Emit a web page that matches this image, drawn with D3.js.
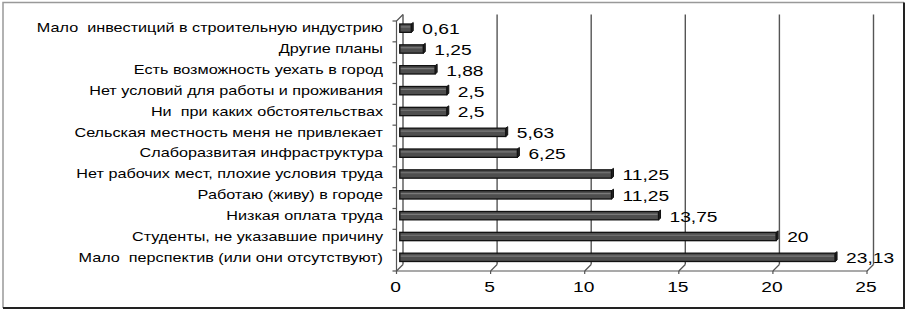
<!DOCTYPE html>
<html>
<head>
<meta charset="utf-8">
<script src="https://cdn.jsdelivr.net/npm/d3@7"></script>
<style>
  body { margin: 0; background: #fff; }
  text { font-family: "Liberation Sans", Arial, sans-serif; fill: #000; white-space: pre; }
</style>
</head>
<body>
<div id="container"></div>
<script>
const categories = [
  "Мало  инвестиций в строительную индустрию",
  "Другие планы",
  "Есть возможность уехать в город",
  "Нет условий для работы и проживания",
  "Ни  при каких обстоятельствах",
  "Сельская местность меня не привлекает",
  "Слаборазвитая инфраструктура",
  "Нет рабочих мест, плохие условия труда",
  "Работаю (живу) в городе",
  "Низкая оплата труда",
  "Студенты, не указавшие причину",
  "Мало  перспектив (или они отсутствуют)"
];
const values = [0.61, 1.25, 1.88, 2.5, 2.5, 5.63, 6.25, 11.25, 11.25, 13.75, 20, 23.13];
const xTicks = [0, 5, 10, 15, 20, 25];

const W = 914, H = 314;
const depth = 6.5;          // 3D offset of the back wall
const sx = 1.28;            // the picture's text is stretched horizontally

const svg = d3.select("#container").append("svg")
  .attr("width", W).attr("height", H);

svg.append("rect").attr("width", W).attr("height", H).attr("fill", "#fff");

// frame
svg.append("path").attr("d", "M3,308 L3,2.5 L904,2.5")
  .attr("fill", "none").attr("stroke", "#999").attr("stroke-width", 1.5);
svg.append("path").attr("d", "M3,308 L904,308 L904,2.5")
  .attr("fill", "none").attr("stroke", "#222").attr("stroke-width", 2);

const xScale = d3.scaleLinear().domain([0, 25]).range([396.5, 867]);
const yScale = d3.scaleBand().domain(categories).range([21, 271]).paddingInner(0.6).paddingOuter(0.3);
const yFront = [21, 271];

const fmt = d3.formatLocale({ decimal: ",", thousands: " ", grouping: [3], currency: ["", ""] }).format("~g");

// back wall gridlines
svg.append("g").selectAll("line").data(xTicks).join("line")
  .attr("x1", d => xScale(d) + depth).attr("x2", d => xScale(d) + depth)
  .attr("y1", yFront[0] - depth).attr("y2", yFront[1] - depth)
  .attr("stroke", "#555").attr("stroke-width", 1.4);

// floor slants
svg.append("g").selectAll("line").data(xTicks).join("line")
  .attr("x1", d => xScale(d)).attr("x2", d => xScale(d) + depth)
  .attr("y1", yFront[1]).attr("y2", yFront[1] - depth)
  .attr("stroke", "#555").attr("stroke-width", 1.2);

// front floor edge and small ticks
svg.append("line").attr("x1", xScale(0)).attr("x2", xScale(25))
  .attr("y1", yFront[1]).attr("y2", yFront[1]).attr("stroke", "#555").attr("stroke-width", 1.2);
svg.append("g").selectAll("line").data(xTicks).join("line")
  .attr("x1", d => xScale(d)).attr("x2", d => xScale(d))
  .attr("y1", yFront[1]).attr("y2", yFront[1] + 3)
  .attr("stroke", "#555").attr("stroke-width", 1.2);

// left axis (front edge of the side wall)
svg.append("path")
  .attr("d", `M${xScale(0)},${yFront[1]} L${xScale(0)},${yFront[0]} L${xScale(0) + depth},${yFront[0] - depth}`)
  .attr("fill", "none").attr("stroke", "#555").attr("stroke-width", 1.2);
const bounds = categories.map(c => yScale(c) - yScale.step() * yScale.paddingInner() / 2).concat([yFront[1]]);
svg.append("g").selectAll("line").data(bounds).join("line")
  .attr("x1", xScale(0) - 4).attr("x2", xScale(0))
  .attr("y1", d => d).attr("y2", d => d)
  .attr("stroke", "#555").attr("stroke-width", 1.2);

// bars, drawn at half depth
const h = depth / 2;
const bh = yScale.bandwidth();
const bars = svg.append("g").selectAll("g").data(values).join("g")
  .attr("transform", (d, i) => `translate(${h},${yScale(categories[i]) - h})`);

bars.append("path")
  .attr("d", d => {
    const x1 = xScale(d);
    return `M${x1},0 L${x1 + 2},-1.5 L${x1 + 2},${bh - 1.5} L${x1},${bh} Z`;
  })
  .attr("fill", "#222").attr("stroke", "#111").attr("stroke-width", 1);
bars.append("rect")
  .attr("x", xScale(0)).attr("y", 0)
  .attr("width", d => xScale(d) - xScale(0)).attr("height", bh)
  .attr("fill", "#4e4e4e").attr("stroke", "#111").attr("stroke-width", 1.3);
bars.append("line")
  .attr("x1", xScale(0) + 1).attr("x2", d => xScale(d) - 1)
  .attr("y1", bh * 0.35).attr("y2", bh * 0.35)
  .attr("stroke", "#7a7a7a").attr("stroke-width", 1.2);

// value labels
svg.append("g").selectAll("g").data(values).join("g")
  .attr("transform", (d, i) => `translate(${xScale(d) + h + 11},${yScale(categories[i]) - h + bh / 2 + 0.5}) scale(${sx},1)`)
  .append("text")
  .attr("dy", "0.36em").attr("font-size", 15)
  .text(d => fmt(d));

// category labels
svg.append("g").selectAll("g").data(categories).join("g")
  .attr("transform", d => `translate(383,${yScale(d) - h + bh / 2}) scale(1.35,1)`)
  .append("text")
  .attr("text-anchor", "end").attr("dy", "0.36em").attr("font-size", 12)
  .text(d => d);

// x tick labels
svg.append("g").selectAll("g").data(xTicks).join("g")
  .attr("transform", d => `translate(${xScale(d) - 1},${287}) scale(${sx},1)`)
  .append("text")
  .attr("text-anchor", "middle").attr("dy", "0.36em").attr("font-size", 15)
  .text(d => d);
</script>
</body>
</html>
